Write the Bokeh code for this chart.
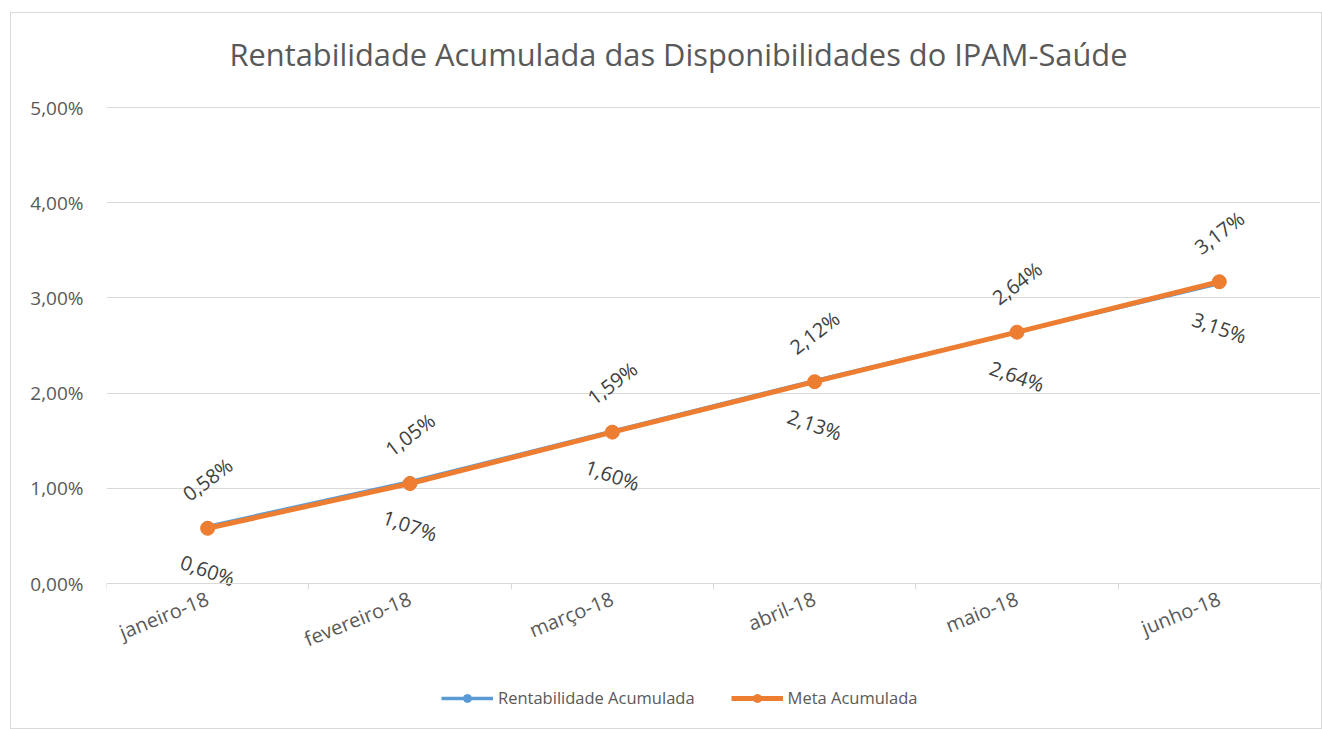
import math
from bokeh.plotting import figure
from bokeh.models import Range1d, FixedTicker, Legend, LegendItem, Label, LinearAxis, ColumnDataSource
from bokeh.core.properties import value
from bokeh.embed import file_html
from bokeh.resources import INLINE

# ---- data ----
months = ["janeiro-18", "fevereiro-18", "março-18", "abril-18", "maio-18", "junho-18"]
rentabilidade = [0.60, 1.07, 1.60, 2.13, 2.64, 3.15]
meta = [0.58, 1.05, 1.59, 2.12, 2.64, 3.17]
y_ticks = [0, 1, 2, 3, 4, 5]
y_tick_labels = ["0,00%", "1,00%", "2,00%", "3,00%", "4,00%", "5,00%"]
title_text = "Rentabilidade Acumulada das Disponibilidades do IPAM-Saúde"
series_names = ["Rentabilidade Acumulada", "Meta Acumulada"]

FONT = "Open Sans"
BLUE = "#5b9bd5"
ORANGE = "#ed7d31"
TXT = "#595959"
GRID = "#d9d9d9"

# ---- layout constants (pixels) ----
W, H = 1312, 717
PLOT_TOP, PLOT_BOTTOM = 13, 730      # frame extent on the page
Y_TOP_PX, Y_ZERO_PX = 107, 583       # where 5% and 0% sit
px_per_unit = (Y_ZERO_PX - Y_TOP_PX) / 5.0
y_start = -(PLOT_BOTTOM - Y_ZERO_PX) / px_per_unit
y_end = 5 + (Y_TOP_PX - PLOT_TOP) / px_per_unit

x_pos = [i + 0.5 for i in range(len(months))]


def fmt(v):
    return ("%.2f" % v).replace(".", ",") + "%"


src_r = ColumnDataSource(dict(x=x_pos, y=rentabilidade, lab=[fmt(v) for v in rentabilidade]))
src_m = ColumnDataSource(dict(x=x_pos, y=meta, lab=[fmt(v) for v in meta]))

p = figure(width=W, height=H, output_backend="svg", toolbar_location=None, title=None,
           x_axis_location=None,
           x_range=Range1d(0, len(months)), y_range=Range1d(y_start, y_end),
           min_border_left=95, min_border_right=3, min_border_top=0, min_border_bottom=0)
p.margin = (12, 0, 0, 10)
p.outline_line_color = None
p.background_fill_color = "white"
p.border_fill_color = "white"
p.styles = {"border": "1px solid #d9d9d9"}

# x axis fixed at y = 0
xa = LinearAxis(fixed_location=0)
xa.ticker = FixedTicker(ticks=x_pos, minor_ticks=list(range(0, len(months) + 1)))
xa.major_label_overrides = {x: m for x, m in zip(x_pos, months)}
xa.major_label_orientation = math.radians(22)
xa.major_tick_line_color = None
xa.minor_tick_line_color = GRID
xa.minor_tick_out = 6
xa.minor_tick_in = 0
xa.axis_line_color = GRID
xa.major_label_text_font = FONT
xa.major_label_text_font_size = "20px"
xa.major_label_text_color = TXT
xa.major_label_standoff = 8
p.add_layout(xa, "below")

ya = p.yaxis[0]
ya.ticker = FixedTicker(ticks=y_ticks)
ya.major_label_overrides = {t: l for t, l in zip(y_ticks, y_tick_labels)}
ya.axis_line_color = None
ya.major_tick_line_color = None
ya.minor_tick_line_color = None
ya.major_label_text_font = FONT
ya.major_label_text_font_size = "19px"
ya.major_label_text_color = TXT
ya.major_label_standoff = 17

p.xgrid.grid_line_color = None
p.ygrid.grid_line_color = GRID
p.ygrid.ticker = FixedTicker(ticks=y_ticks)

# series
lr = p.line("x", "y", source=src_r, line_color=BLUE, line_width=3.5)
sr = p.scatter("x", "y", source=src_r, marker="circle", size=10, fill_color=BLUE, line_color=BLUE)
lm = p.line("x", "y", source=src_m, line_color=ORANGE, line_width=5)
sm = p.scatter("x", "y", source=src_m, marker="circle", size=14, fill_color=ORANGE, line_color=ORANGE)

# data labels
p.text("x", "y", text="lab", source=src_m, y_offset=-49, angle=37, angle_units="deg",
       text_align="center", text_baseline="middle", text_font=value(FONT),
       text_font_size="20px", text_color="#404040")
p.text("x", "y", text="lab", source=src_r, y_offset=44, angle=-19, angle_units="deg",
       text_align="center", text_baseline="middle", text_font=value(FONT),
       text_font_size="20px", text_color="#404040")

# title (screen units relative to the frame's bottom-left corner)
p.add_layout(Label(x=678 - 106, y=PLOT_BOTTOM - 53, x_units="screen", y_units="screen",
                   text=title_text, text_align="center", text_baseline="middle",
                   text_font=FONT, text_font_size="30.8px", text_color=TXT))

# legend (location = offset of its bottom-left corner from the frame's bottom-left)
legend = Legend(items=[LegendItem(label=series_names[0], renderers=[lr, sr]),
                       LegendItem(label=series_names[1], renderers=[lm, sm])],
                orientation="horizontal", location=(441 - 106, PLOT_BOTTOM - 709),
                glyph_width=52, glyph_height=20, label_standoff=5, spacing=36,
                padding=0, margin=0, border_line_color=None, background_fill_alpha=0,
                label_text_font=FONT, label_text_font_size="16.5px", label_text_color=TXT)
p.add_layout(legend, "center")

open("out.html", "w").write(file_html(p, INLINE))
